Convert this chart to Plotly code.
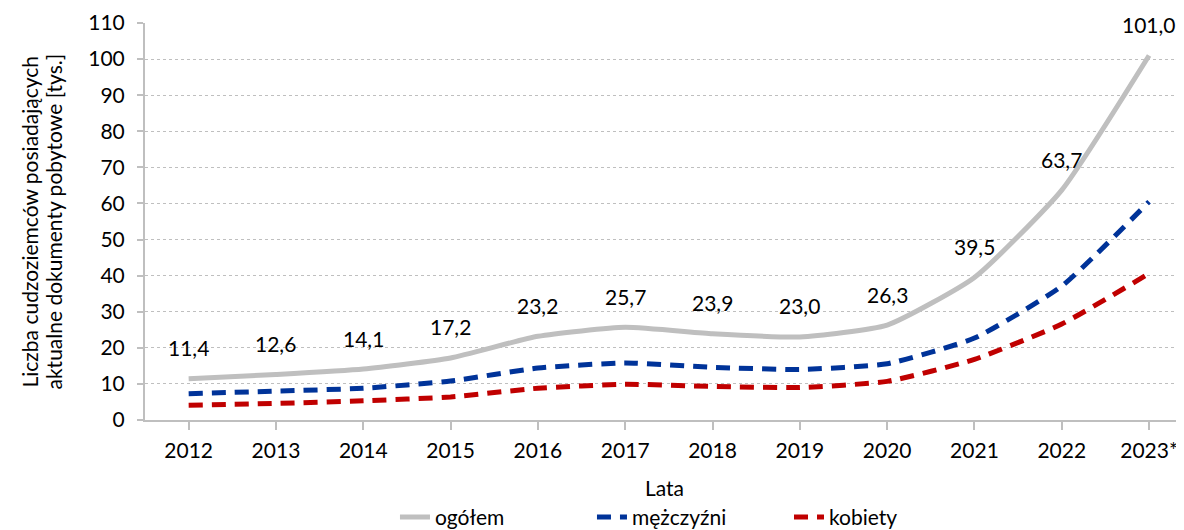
import plotly.graph_objects as go

years = ["2012", "2013", "2014", "2015", "2016", "2017", "2018", "2019", "2020", "2021", "2022", "2023*"]
ogolem = [11.4, 12.6, 14.1, 17.2, 23.2, 25.7, 23.9, 23.0, 26.3, 39.5, 63.7, 101.0]
mezczyzni = [7.3, 8.0, 8.8, 10.8, 14.4, 15.8, 14.6, 14.0, 15.6, 22.7, 37.1, 60.5]
kobiety = [4.1, 4.6, 5.3, 6.4, 8.8, 9.9, 9.3, 9.0, 10.7, 16.8, 26.6, 40.6]
ytitle = ["Liczba cudzoziemców posiadających", "aktualne dokumenty pobytowe [tys.]"]

FONT = "Lato"
FS = 21
x_idx = list(range(len(years)))

# page body has an 8px margin; compensate
W, H = 1176, 522
ML, MT = 137, 15
MB = 110

fig = go.Figure()
fig.add_trace(go.Scatter(x=x_idx, y=ogolem, name="ogółem", mode="lines",
                         line=dict(color="#bfbfbf", width=5, shape="spline", smoothing=0.5)))
fig.add_trace(go.Scatter(x=x_idx, y=mezczyzni, name="mężczyźni", mode="lines",
                         line=dict(color="#003399", width=5, dash="14px,9px", shape="spline", smoothing=0.5)))
fig.add_trace(go.Scatter(x=x_idx, y=kobiety, name="kobiety", mode="lines",
                         line=dict(color="#c00000", width=5, dash="14px,9px", shape="spline", smoothing=0.5)))

for xi, v in zip(x_idx, ogolem):
    fig.add_annotation(x=xi, y=v, text=f"{v:.1f}".replace(".", ","), showarrow=False,
                       yshift=31, font=dict(family=FONT, size=FS, color="#000000"))

# y-axis title lines
for i, line in enumerate(ytitle):
    fig.add_annotation(xref="paper", yref="paper", x=0, y=0.5, xanchor="center", yanchor="middle",
                       xshift=-(ML - (21 + 24 * i)), text=line, textangle=-90, showarrow=False,
                       font=dict(family=FONT, size=FS, color="#000000"))

fig.update_layout(
    width=W, height=H,
    margin=dict(l=ML, r=0, t=MT, b=MB, autoexpand=False),
    plot_bgcolor="white", paper_bgcolor="white",
    font=dict(family=FONT, size=FS, color="#000000"),
    showlegend=True,
    legend=dict(orientation="h", x=0.525, xanchor="center", y=-0.245, yanchor="middle",
                font=dict(family=FONT, size=FS), entrywidth=152, entrywidthmode="pixels"),
)
fig.update_xaxes(
    tickmode="array", tickvals=x_idx, ticktext=years,
    range=[-0.5, 11.4], automargin=False,
    showgrid=False, zeroline=False,
    showline=True, linecolor="#bfbfbf", linewidth=2,
    ticks="outside", tickson="boundaries", ticklen=8, tickcolor="#bfbfbf", tickwidth=2,
    ticklabelstandoff=3,
    title=dict(text="Lata", standoff=20, font=dict(family=FONT, size=FS)),
    tickfont=dict(family=FONT, size=FS),
)
fig.update_yaxes(
    range=[0, 110], tickmode="linear", dtick=10, tick0=0, automargin=False,
    showgrid=True, gridcolor="#bfbfbf", griddash="dot", gridwidth=1,
    zeroline=False,
    showline=True, linecolor="#bfbfbf", linewidth=2,
    ticks="outside", ticklen=6, tickcolor="#bfbfbf", tickwidth=2,
    ticklabelstandoff=8,
    tickfont=dict(family=FONT, size=FS),
)

fig.write_html("out.html")
